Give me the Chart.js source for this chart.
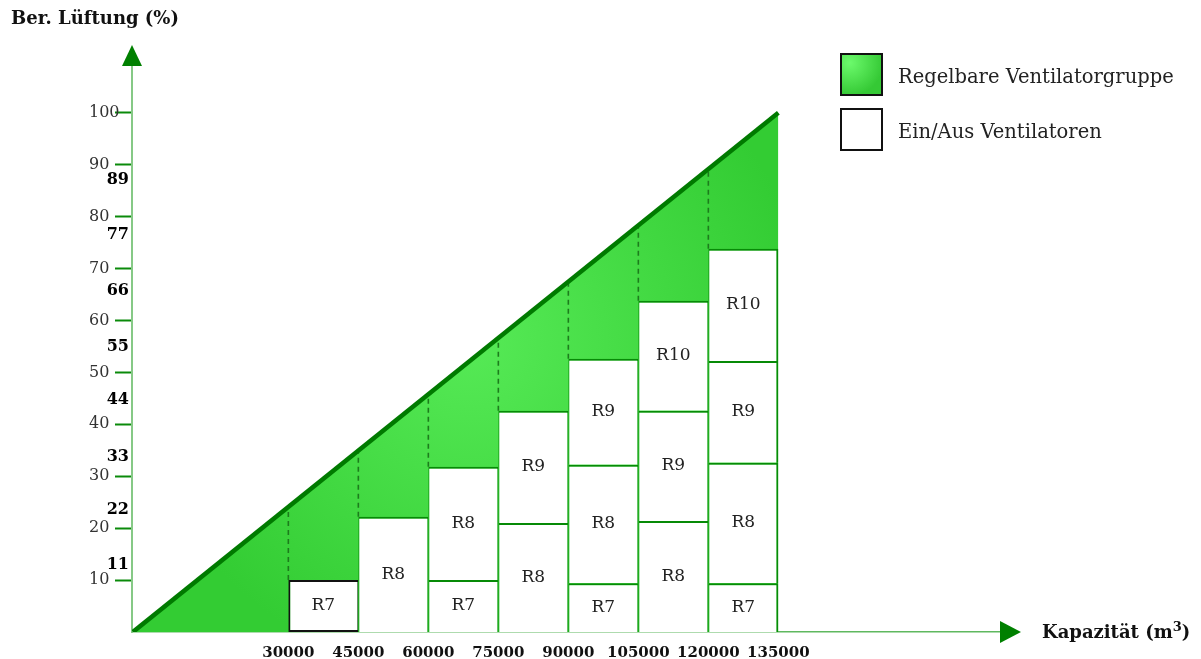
<!DOCTYPE html>
<html>
<head>
<meta charset="utf-8">
<script src="https://cdn.jsdelivr.net/npm/chart.js@4/dist/chart.umd.min.js"></script>
<style>
  body { margin: 0; background: #fff; }
  #wrap { position: relative; width: 1201px; height: 659px; font-family: "DejaVu Serif", serif; color: #111; }
  #chart { position: absolute; left: 0; top: 0; }
  .title { position: absolute; font-weight: bold; font-size: 18px; white-space: nowrap; }
  .legend { position: absolute; left: 840px; font-size: 19.5px; color: #222; }
  .legend .row { position: absolute; left: 0; display: flex; align-items: center; white-space: nowrap; }
  .legend .box { width: 39px; height: 39px; border: 2px solid #111; margin-right: 15px; }
  .legend .green { background: radial-gradient(circle at 20% 20%, #6cfa6c, #35c935 75%); }
  .legend .txt { position: relative; top: 2px; }
</style>
</head>
<body>
<div id="wrap">
  <canvas id="chart" width="1201" height="659"></canvas>
  <div class="title" style="left:11px; top:7px;">Ber. Lüftung (%)</div>
  <div class="title" style="left:1042px; top:619px;">Kapazität (m<sup style="font-size:13px">3</sup>)</div>
  <div class="legend">
    <div class="row" style="top:53px;"><div class="box green"></div><span class="txt">Regelbare Ventilatorgruppe</span></div>
    <div class="row" style="top:108px;"><div class="box"></div><span class="txt">Ein/Aus Ventilatoren</span></div>
  </div>
</div>
<script>
// x-Achse: Spaltengrenzen (Kapazität m3)
const colEdges = [30000, 45000, 60000, 75000, 90000, 105000, 120000, 135000];
const xTicks = [30000, 45000, 60000, 75000, 90000, 105000, 120000, 135000];
const yTicks = [10, 20, 30, 40, 50, 60, 70, 80, 90, 100];

const markLabels = [11, 22, 33, 44, 55, 66, 77, 89];
const markPos = [12.9, 23.5, 33.7, 44.7, 54.9, 65.7, 76.5, 87.1];

// Ein/Aus Ventilatoren je Spalte, von unten nach oben
const stackNames = [
  ['R7'],
  ['R8'],
  ['R7', 'R8'],
  ['R8', 'R9'],
  ['R7', 'R8', 'R9'],
  ['R8', 'R9', 'R10'],
  ['R7', 'R8', 'R9', 'R10']
];
const stackTops = [
  [10],
  [22.2],
  [10, 31.8],
  [21, 42.6],
  [9.4, 32.2, 52.6],
  [21.4, 42.6, 63.8],
  [9.4, 32.6, 52.2, 73.8]
];

// Dreieck der regelbaren Gruppe
const rampPoints = [{ x: -3300, y: 0 }, { x: 135000, y: 100 }];
// Höhe der Rampe an den Spaltengrenzen (für gestrichelte Linien)
const rampAtEdges = [24, 35, 45.8, 56.6, 67.4, 78.2, 89];

// Balken bauen
const boxData = [];
const boxNames = [];
const boxCol = [];
stackTops.forEach((tops, c) => {
  let lo = 0;
  tops.forEach((hi, k) => {
    boxData.push({ x: (colEdges[c] + colEdges[c + 1]) / 2, y: [lo, hi] });
    boxNames.push(stackNames[c][k]);
    boxCol.push(c);
    lo = hi;
  });
});
const lastCol = stackTops.length - 1;

const dashData = [];
rampAtEdges.forEach((top, i) => {
  const base = stackTops[i][stackTops[i].length - 1];
  dashData.push({ x: colEdges[i], y: base }, { x: colEdges[i], y: top }, { x: colEdges[i], y: null });
});

const labelPlugin = {
  id: 'extras',
  afterDatasetsDraw(chart) {
    const ctx = chart.ctx;
    const meta = chart.getDatasetMeta(2);
    ctx.save();
    ctx.font = '17px "DejaVu Serif"';
    ctx.fillStyle = '#222';
    ctx.textAlign = 'center';
    ctx.textBaseline = 'middle';
    meta.data.forEach((el, i) => {
      const p = el.getCenterPoint();
      ctx.fillText(boxNames[i], p.x, p.y);
    });
    ctx.restore();
  },
  afterDraw(chart) {
    const { ctx, chartArea, scales } = chart;
    ctx.save();
    // fette Werte an der y-Achse
    ctx.font = 'bold 16px "DejaVu Serif"';
    ctx.fillStyle = '#000';
    ctx.textAlign = 'right';
    ctx.textBaseline = 'middle';
    markLabels.forEach((v, i) => {
      ctx.fillText(String(v), chartArea.left - 3, scales.y.getPixelForValue(markPos[i]));
    });
    // Pfeile
    ctx.fillStyle = '#008000';
    ctx.beginPath();
    ctx.moveTo(chartArea.left, chartArea.top - 21);
    ctx.lineTo(chartArea.left - 10, chartArea.top);
    ctx.lineTo(chartArea.left + 10, chartArea.top);
    ctx.fill();
    ctx.beginPath();
    ctx.moveTo(chartArea.right + 21, chartArea.bottom);
    ctx.lineTo(chartArea.right, chartArea.bottom - 11);
    ctx.lineTo(chartArea.right, chartArea.bottom + 11);
    ctx.fill();
    ctx.restore();
  }
};

function rampFill(context) {
  const { ctx, chartArea } = context.chart;
  if (!chartArea) return '#33cc33';
  const g = ctx.createRadialGradient(470, 340, 0, 470, 340, 340);
  g.addColorStop(0, '#56ea56');
  g.addColorStop(1, '#33cc33');
  return g;
}

function boxBorder(c) {
  const i = c.dataIndex;
  if (i === 0) return { top: 2, left: 2, right: 1, bottom: 2 };
  return { top: 2, left: 1, right: boxCol[i] === lastCol ? 2 : 1, bottom: 0 };
}

new Chart(document.getElementById('chart'), {
  type: 'bar',
  data: {
    datasets: [
      {
        type: 'line',
        data: rampPoints,
        fill: 'origin',
        backgroundColor: rampFill,
        borderWidth: 0,
        pointRadius: 0,
        order: 4
      },
      {
        type: 'line',
        data: dashData,
        spanGaps: false,
        borderColor: '#1c7c1c',
        borderWidth: 1.6,
        borderDash: [5, 4],
        pointRadius: 0,
        fill: false,
        order: 3
      },
      {
        data: boxData,
        backgroundColor: '#fff',
        borderColor: c => c.dataIndex === 0 ? '#111' : '#078a07',
        borderWidth: boxBorder,
        borderSkipped: false,
        inflateAmount: 0,
        barPercentage: 1,
        categoryPercentage: 1,
        order: 2
      },
      {
        type: 'line',
        data: rampPoints,
        borderColor: '#007a00',
        borderWidth: 4.5,
        pointRadius: 0,
        fill: false,
        order: 1
      }
    ]
  },
  options: {
    responsive: false,
    devicePixelRatio: 1,
    animation: false,
    layout: { padding: { left: 89, right: 201, top: 66, bottom: 0 } },
    plugins: { legend: { display: false }, tooltip: { enabled: false } },
    scales: {
      x: {
        type: 'linear',
        offset: false,
        min: -3500,
        max: 182500,
        afterFit: s => { s.height = 27; },
        afterBuildTicks: s => { s.ticks = xTicks.map(v => ({ value: v })); },
        grid: { display: false, offset: false },
        border: { color: '#5fb85f', width: 1.5 },
        ticks: {
          autoSkip: false,
          maxRotation: 0,
          padding: 4,
          color: '#111',
          font: { family: 'DejaVu Serif', size: 15, weight: 'bold' },
          callback: v => String(v)
        }
      },
      y: {
        min: 0,
        max: 109,
        afterFit: s => { s.width = 43; },
        afterBuildTicks: s => { s.ticks = yTicks.map(v => ({ value: v })); },
        grid: { drawOnChartArea: false, tickLength: 17, tickColor: '#0a8a0a', tickWidth: 2 },
        border: { color: '#86c986', width: 2 },
        ticks: {
          crossAlign: 'far',
          padding: 2,
          color: '#333',
          font: { family: 'DejaVu Serif', size: 16 }
        }
      }
    }
  },
  plugins: [labelPlugin]
});
</script>
</body>
</html>
